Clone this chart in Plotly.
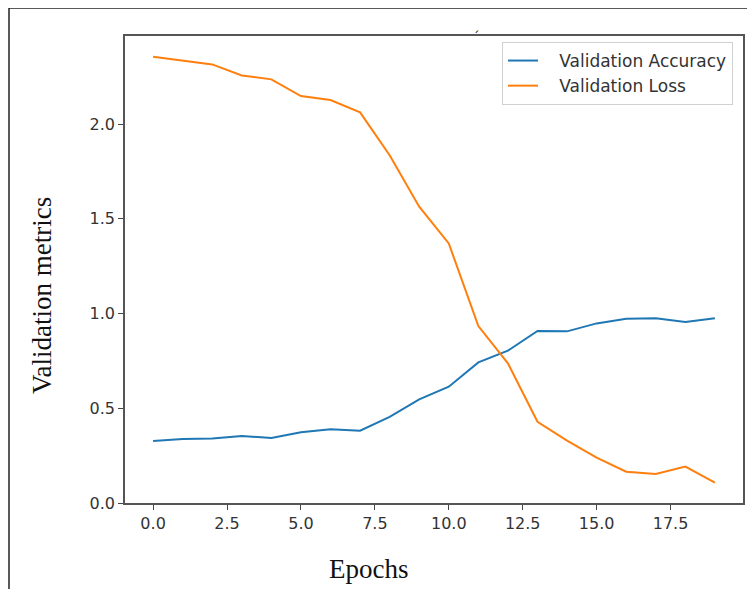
import plotly.graph_objects as go

epochs = list(range(20))
val_accuracy = [0.327, 0.338, 0.340, 0.354, 0.343, 0.373, 0.389, 0.382, 0.455, 0.547,
                0.614, 0.742, 0.804, 0.908, 0.906, 0.948, 0.973, 0.975, 0.955, 0.975]
val_loss = [2.355, 2.334, 2.315, 2.257, 2.236, 2.148, 2.127, 2.062, 1.836, 1.564,
            1.370, 0.934, 0.737, 0.429, 0.329, 0.239, 0.165, 0.153, 0.192, 0.107]
x_ticks = [0, 2.5, 5, 7.5, 10, 12.5, 15, 17.5]
y_ticks = [0.0, 0.5, 1.0, 1.5, 2.0]
series_names = ["Validation Accuracy", "Validation Loss"]

OFF = 8  # page body margin
W, H = 755, 589
# plot area in screen pixels: x 125..743, y 36..503
L, T = 125 - OFF, 36 - OFF
R = W - (743 - OFF)
B = H - (503 - OFF)
pw, ph = W - L - R, H - T - B

def px(x):
    return (x - OFF - L) / pw

def py(y):
    return (H - B - (y - OFF)) / ph

pad = "\u00a0\u00a0\u00a0"

fig = go.Figure()
fig.add_trace(go.Scatter(x=epochs, y=val_accuracy, mode="lines", name=pad + series_names[0],
                         line=dict(color="#1f77b4", width=2)))
fig.add_trace(go.Scatter(x=epochs, y=val_loss, mode="lines", name=pad + series_names[1],
                         line=dict(color="#ff7f0e", width=2)))

axis_common = dict(showgrid=False, zeroline=False, showline=True, linecolor="#555",
                   linewidth=1.5, mirror=True, ticks="outside", ticklen=5, tickwidth=1,
                   tickcolor="#444",
                   tickfont=dict(family="DejaVu Sans", size=16, color="#333"))
fig.update_xaxes(range=[-0.95, 19.95], tickvals=x_ticks,
                 ticktext=[f"{v:.1f}" for v in x_ticks], **axis_common)
fig.update_yaxes(range=[0, 2.465], tickvals=y_ticks,
                 ticktext=[f"{v:.1f}" for v in y_ticks], **axis_common)

fig.update_layout(
    width=W, height=H,
    margin=dict(l=L, r=R, t=T, b=B),
    paper_bgcolor="white", plot_bgcolor="white",
    showlegend=True,
    legend=dict(x=px(502), y=py(42), xanchor="left", yanchor="top",
                bordercolor="#d0d0d0", borderwidth=1, bgcolor="white",
                font=dict(family="DejaVu Sans", size=17, color="#333")),
    annotations=[
        dict(text="Epochs", x=px(368), y=py(569), xref="paper", yref="paper",
             xanchor="center", yanchor="middle",
             showarrow=False, font=dict(family="Liberation Serif", size=27, color="#111")),
        dict(text="Validation metrics", x=px(42), y=py(296), xref="paper", yref="paper",
             xanchor="center", yanchor="middle",
             showarrow=False, textangle=-90,
             font=dict(family="Liberation Serif", size=27, color="#111")),
        dict(text="ˊ", x=px(476), y=py(36), xref="paper", yref="paper",
             xanchor="center", yanchor="middle",
             showarrow=False, font=dict(family="DejaVu Sans", size=13, color="#222")),
    ],
    shapes=[
        dict(type="line", xref="paper", yref="paper", x0=px(9), x1=px(770), y0=py(8), y1=py(8),
             line=dict(color="#222", width=1.5)),
        dict(type="line", xref="paper", yref="paper", x0=px(9), x1=px(9), y0=py(8), y1=py(600),
             line=dict(color="#222", width=1.5)),
    ],
)

fig.write_html("out.html")
